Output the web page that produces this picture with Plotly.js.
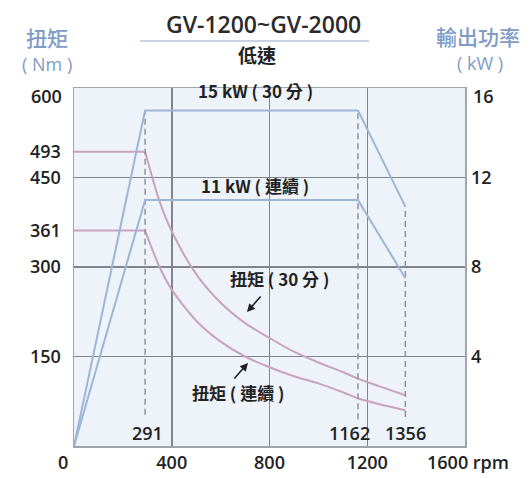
<!DOCTYPE html>
<html>
<head>
<meta charset="utf-8">
<script src="https://cdn.plot.ly/plotly-3.0.1.min.js"></script>
<style>
  html, body { margin: 0; padding: 0; background: #ffffff; }
  #chart { width: 532px; height: 478px; }
</style>
</head>
<body>
<div id="chart"></div>
<script>
// ---- data ----
const powerRpm = [0, 291, 1162, 1356];
const power30 = [0, 15, 15, 10.7];      // kW (30 分)
const powerCont = [0, 11, 11, 7.5];     // kW (連續)

const flatRpm = [0, 291];
const flat30 = [493, 493];              // Nm
const flatCont = [361, 361];            // Nm

const curveRpm = [291, 350, 400, 500, 600, 700, 800, 900, 1000, 1100, 1162, 1250, 1356];
const curve30 = [493, 410, 360, 288, 240, 206, 181, 158, 140, 124, 113, 100, 85];   // Nm
const curveCont = [361, 300, 262, 210, 175, 150, 132, 117, 105, 90, 80, 70, 60];    // Nm

const markRpm = [291, 1162, 1356];
const markLow = [1.4, 1.2, 1.3];        // kW, dashed lines start
const markHigh = [15, 15, 10.7];        // kW, dashed lines end

const leftTicks = [150, 300, 361, 450, 493];
const rightTicks = [4, 8, 12];
const gridKw = [4, 8, 12, 16];
const xTicks = [400, 800, 1200];

// ---- styles ----
const blue = '#9db5d8';
const pink = '#c9a3bd';
const grid = '#80858d';
const dark = '#222222';
const font = 'Open Sans, DejaVu Sans, sans-serif';
const cjk = 'Noto Sans CJK TC, Noto Sans CJK SC, sans-serif';

const traces = [];
for (let i = 0; i < markRpm.length; i++) {
  traces.push({
    x: [markRpm[i], markRpm[i]], y: [markLow[i], markHigh[i]], yaxis: 'y2',
    mode: 'lines', line: {color: '#8e939b', width: 1.5, dash: '6px,4px'},
    hoverinfo: 'skip', showlegend: false
  });
}
traces.push({x: flatRpm, y: flat30, mode: 'lines', line: {color: pink, width: 2}, showlegend: false});
traces.push({x: flatRpm, y: flatCont, mode: 'lines', line: {color: pink, width: 2}, showlegend: false});
traces.push({x: curveRpm, y: curve30, mode: 'lines', line: {color: pink, width: 2, shape: 'spline', smoothing: 0.8}, showlegend: false});
traces.push({x: curveRpm, y: curveCont, mode: 'lines', line: {color: pink, width: 2, shape: 'spline', smoothing: 0.8}, showlegend: false});
traces.push({x: powerRpm, y: power30, yaxis: 'y2', mode: 'lines', line: {color: blue, width: 2}, showlegend: false});
traces.push({x: powerRpm, y: powerCont, yaxis: 'y2', mode: 'lines', line: {color: blue, width: 2}, showlegend: false});

const W = 532, H = 478, L = 74, R = 67, T = 88, B = 32;
const pw = W - L - R, ph = H - T - B;
function px(x) { return (x - L) / pw; }
function py(y) { return (H - B - y) / ph; }

function txt(text, x, y, size, color, family, weight, extra) {
  return Object.assign({
    text: text, xref: 'paper', yref: 'paper', x: px(x), y: py(y),
    xanchor: 'center', yanchor: 'middle', showarrow: false,
    font: {size: size, color: color || dark, family: family || font, weight: weight || 600}
  }, extra || {});
}

const annotations = [
  txt('GV-1200~GV-2000', 263, 24, 23, '#2a2a2a', font, 600),
  txt('低速', 257, 54, 19, dark, cjk, 700),
  txt('15 kW ( 30 分 )', 255, 90, 17, dark, cjk, 700),
  txt('11 kW ( 連續 )', 255, 185, 17, dark, cjk, 700),
  txt('扭矩 ( 30 分 )', 279, 278, 17, dark, cjk, 700),
  txt('扭矩 ( 連續 )', 238, 392, 17, dark, cjk, 700),
  txt('扭矩', 47, 37, 21, '#7f9bc6', cjk, 500),
  txt('( Nm )', 47, 64, 18, '#7f9bc6', font, 500),
  txt('輸出功率', 478, 36, 21, '#7f9bc6', cjk, 500),
  txt('( kW )', 480, 63, 18, '#7f9bc6', font, 500),
  txt('291', 147, 433, 18, dark, font, 600),
  txt('1162', 349, 433, 18, dark, font, 600),
  txt('1356', 405, 433, 18, dark, font, 600),
  txt('0', 63, 462, 18, dark, font, 600),
  txt('1600 rpm', 468, 462, 18, dark, font, 600),
  txt('600', 64, 96, 18, dark, font, 600, {xanchor: 'right'}),
  txt('16', 471, 96, 18, dark, font, 600, {xanchor: 'left'}),
  // arrows
  {x: (247 - L) / pw * 1600, y: (H - B - 312) / ph * 600, xref: 'x', yref: 'y',
   ax: 15, ay: -17, text: '', showarrow: true, arrowhead: 2, arrowsize: 1, arrowwidth: 1.6, arrowcolor: dark},
  {x: (248 - L) / pw * 1600, y: (H - B - 363) / ph * 600, xref: 'x', yref: 'y',
   ax: -15, ay: 17, text: '', showarrow: true, arrowhead: 2, arrowsize: 1, arrowwidth: 1.6, arrowcolor: dark}
];

const layout = {
  width: W, height: H,
  margin: {l: L, r: R, t: T, b: B, pad: 0},
  paper_bgcolor: '#ffffff', plot_bgcolor: '#eef2f9',
  showlegend: false,
  xaxis: {
    range: [0, 1600], tickvals: xTicks, ticktext: xTicks.map(String),
    showgrid: true, gridcolor: grid, gridwidth: 1.5, zeroline: false,
    showline: true, mirror: true, linecolor: '#a0a4ab', linewidth: 1.5,
    ticks: '', ticklabelstandoff: 0,
    tickfont: {size: 18, color: dark, family: font, weight: 600}
  },
  yaxis: {
    range: [0, 600], tickvals: leftTicks, ticktext: leftTicks.map(String),
    showgrid: false, zeroline: false,
    showline: true, mirror: true, linecolor: '#a0a4ab', linewidth: 1.5,
    ticks: '', ticklabelstandoff: 8,
    tickfont: {size: 18, color: dark, family: font, weight: 600}
  },
  yaxis2: {
    overlaying: 'y', side: 'right', range: [0, 16], tickvals: gridKw,
    ticktext: gridKw.map(v => rightTicks.includes(v) ? String(v) : ''),
    showgrid: true, gridcolor: grid, gridwidth: 1.5, zeroline: false, showline: false,
    ticks: '', ticklabelstandoff: 5,
    tickfont: {size: 18, color: dark, family: font, weight: 600}
  },
  shapes: [
    {type: 'line', xref: 'paper', yref: 'paper', x0: px(140), x1: px(369), y0: py(41), y1: py(41),
     line: {color: '#b7c3d8', width: 1.5}}
  ],
  annotations: annotations
};

Plotly.newPlot('chart', traces, layout, {displayModeBar: false, staticPlot: true});
</script>
</body>
</html>
